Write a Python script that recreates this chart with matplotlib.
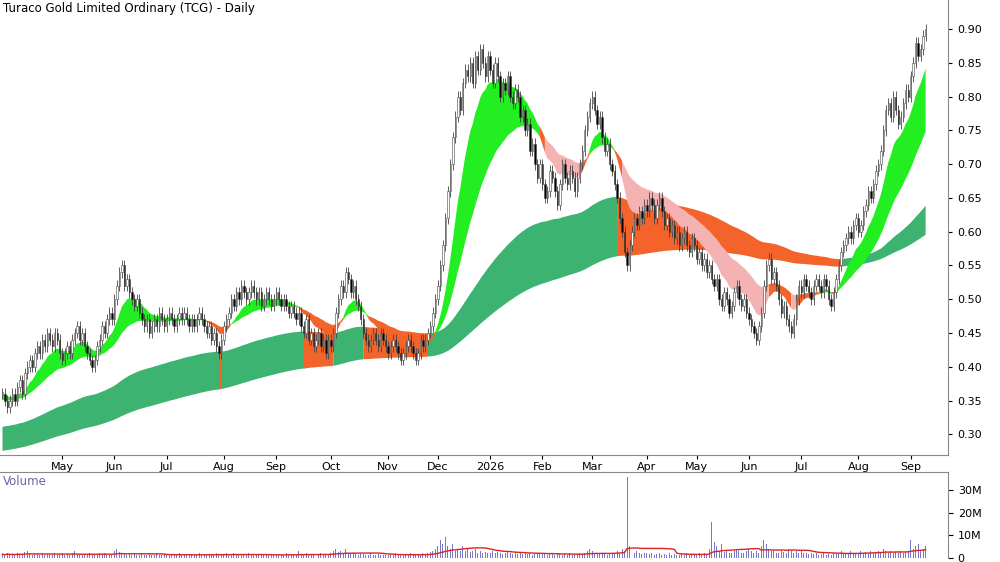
import numpy as np
import pandas as pd
import matplotlib
matplotlib.use("Agg")
import matplotlib.pyplot as plt
from matplotlib.patches import Rectangle

title = "Turaco Gold Limited Ordinary (TCG) - Daily"

prior_closes = [
 .19,.19,.20,.19,.19,.20,.20,.19,.20,.20, .20,.20,.21,.20,.20,.21,.20,.21,.21,.20,
 .21,.21,.22,.21,.21,.22,.21,.22,.21,.22, .22,.22,.23,.22,.22,.23,.22,.23,.22,.23,
 .23,.22,.23,.24,.23,.23,.24,.23,.24,.23, .24,.24,.25,.24,.24,.25,.24,.25,.24,.25,
 .25,.25,.26,.25,.25,.26,.25,.26,.25,.26, .25,.26,.26,.27,.26,.26,.27,.26,.27,.26,
 .27,.26,.27,.28,.27,.27,.28,.27,.28,.27, .28,.27,.28,.29,.28,.28,.29,.28,.29,.28,
 .29,.28,.29,.30,.29,.29,.30,.29,.30,.29, .30,.29,.30,.31,.30,.30,.31,.30,.31,.30,
 .30,.31,.31,.32,.31,.31,.32,.31,.32,.31, .31,.32,.32,.33,.32,.32,.33,.32,.33,.32,
 .32,.33,.33,.34,.33,.33,.34,.33,.34,.33, .33,.34,.34,.35,.34,.34,.35,.34,.35,.34,
 .35,.34,.35,.36,.35,.35,.36,.35,.36,.35, .36,.35,.36,.37,.36,.36,.37,.36,.37,.36,
]

closes_by_month = [
 [0.36,0.35,0.34,0.35,0.36,0.35],
 [0.37,0.38,0.36,0.39,0.40,0.41,0.40,0.42,0.43,0.42,0.44,0.43,0.45,0.44,0.43,0.45,0.44,0.42],
 [0.41,0.42,0.43,0.42,0.44,0.45,0.46,0.44,0.45,0.43,0.42,0.41,0.40,0.41,0.43,0.44,0.46,0.45,0.47,0.48,0.47],
 [0.50,0.52,0.54,0.55,0.52,0.53,0.51,0.50,0.49,0.50,0.48,0.47,0.46,0.47,0.45,0.46,0.47,0.46,0.48,0.47,0.46],
 [0.47,0.48,0.47,0.46,0.47,0.48,0.47,0.48,0.47,0.46,0.47,0.46,0.47,0.48,0.47,0.46,0.45,0.46,0.44,0.45,0.43,0.42,0.44],
 [0.46,0.47,0.48,0.50,0.49,0.51,0.50,0.52,0.51,0.50,0.51,0.52,0.51,0.50,0.51,0.49,0.50,0.51,0.50,0.49,0.50],
 [0.51,0.50,0.49,0.50,0.49,0.48,0.49,0.48,0.47,0.48,0.46,0.45,0.47,0.44,0.45,0.43,0.44,0.45,0.43,0.44,0.42,0.44],
 [0.43,0.45,0.48,0.50,0.52,0.51,0.54,0.53,0.51,0.52,0.50,0.49,0.47,0.45,0.44,0.43,0.44,0.45,0.44,0.43,0.45,0.44,0.43],
 [0.42,0.43,0.44,0.43,0.42,0.41,0.42,0.43,0.44,0.43,0.42,0.41,0.42,0.44,0.43,0.44,0.45,0.46,0.48,0.50],
 [0.52,0.55,0.58,0.62,0.66,0.70,0.74,0.77,0.80,0.78,0.82,0.84,0.83,0.85,0.82,0.86,0.84,0.87,0.85,0.83,0.86],
 [0.84,0.82,0.85,0.83,0.80,0.82,0.81,0.83,0.80,0.79,0.81,0.80,0.77,0.78,0.75,0.76,0.72,0.73,0.70,0.68,0.70],
 [0.67,0.65,0.66,0.69,0.68,0.66,0.64,0.67,0.70,0.68,0.67,0.69,0.68,0.66,0.68,0.70,0.72,0.75,0.77,0.79],
 [0.80,0.78,0.76,0.77,0.74,0.72,0.73,0.70,0.69,0.67,0.65,0.62,0.60,0.57,0.55,0.58,0.60,0.62,0.61,0.63,0.62,0.64],
 [0.63,0.65,0.64,0.62,0.64,0.65,0.63,0.61,0.62,0.60,0.61,0.59,0.60,0.58,0.59,0.60,0.58,0.57,0.59,0.58],
 [0.56,0.57,0.55,0.56,0.54,0.55,0.53,0.52,0.53,0.50,0.49,0.51,0.50,0.48,0.49,0.51,0.52,0.50,0.49,0.50,0.48],
 [0.47,0.46,0.45,0.44,0.46,0.48,0.52,0.55,0.56,0.53,0.54,0.52,0.50,0.48,0.49,0.47,0.46,0.45,0.47,0.50,0.52],
 [0.51,0.53,0.52,0.51,0.50,0.52,0.53,0.52,0.51,0.53,0.52,0.50,0.49,0.51,0.53,0.55,0.57,0.58,0.59,0.60,0.59,0.61,0.62],
 [0.60,0.61,0.63,0.64,0.66,0.65,0.67,0.69,0.70,0.72,0.75,0.78,0.79,0.77,0.80,0.78,0.76,0.77,0.79,0.81,0.80],
 [0.83,0.85,0.88,0.86,0.87,0.89,0.90],
]

volume_by_month = [
 [1.5,1,2,1,1.5,1],
 [2,1.5,1,2.5,3,1.5,1,2,1.5,1,2,1,1.5,1,1,2,1,1.5],
 [2,1,1.5,1,2,3,1.5,1,1,1.5,1,2,1.5,1,1,2,1.5,2,1.5,1,1],
 [3,4,2.5,2,1.5,1,2,1,1.5,1,1,2,1,1,1.5,1,1,2,1,1,1.5],
 [1,1,1.5,1,1,2,1,1,1,1.5,1,1,1,2,1,1,1,1.5,1,1,2,1.5,1],
 [1.5,2,1,1.5,2,1,1,1.5,1,1,2,1,1,1.5,1,1,1,1.5,1,1,1],
 [1,1.5,1,1,2,1,1.5,1,1,3,1.5,1,2,1,1,1.5,1,1,2,1,1,1.5],
 [2,3,4,2.5,3,2,4,2,1.5,2,1.5,1,2,1.5,1,1,2,1,1,1.5,1,1,1],
 [1,1.5,1,2,1,1,1.5,1,1,2,1,1,1.5,1,2,1.5,2,2.5,3,4],
 [5,8,6,9,5,4,6,3,4,3,5,3,4,2.5,3,4,2,3,2,2.5,2],
 [2,3,2,2.5,2,1.5,2,3,2,1.5,2,1.5,2,1.5,2,1.5,2,1,1.5,2,1.5],
 [2,1.5,1,2,1.5,1,2,1.5,1,1.5,1,2,1,1.5,1,2,1.5,2,3,4],
 [3,2,2,1.5,2,1.5,1,2,1.5,2,3,2,4,3,36,5,4,2,3,2,1.5,2],
 [2,1.5,2,1,1.5,2,1,1.5,1,2,1,1.5,1,1,1.5,1,2,1,1,1.5],
 [1.5,2,1,2,1.5,4,16,7,5,3,6,2.5,3,2,2,3,4,3,2,2,3],
 [4,3,2,3,2,5,8,6,4,3,3,2,2,3,2.5,2,4,3,2,3,2],
 [3,2,2,1.5,2,1.5,2,1,1.5,2,1,1.5,1,2,1.5,2,3,2,1.5,2,3,2,2],
 [2,3,2,2.5,2,3,2,2,3,2,4,3,2,3,2,2.5,2,3,2,2.5,3],
 [8,4,5,6,3,4,5],
]

short_periods = [12, 15, 19, 23, 28, 34]
long_periods = [120, 140, 160, 180, 200, 240]
month_labels = ["May","Jun","Jul","Aug","Sep","Oct","Nov","Dec","2026","Feb","Mar","Apr","May","Jun","Jul","Aug","Sep"]
price_ticks = [0.30,0.35,0.40,0.45,0.50,0.55,0.60,0.65,0.70,0.75,0.80,0.85,0.90]

closes = np.array([c for m in closes_by_month for c in m])
volume = np.array([v for m in volume_by_month for v in m]) * 1e6
n = len(closes)
x = np.arange(n)
month_sizes = [len(m) for m in closes_by_month]
month_pos = list(np.cumsum(month_sizes)[1:-1])

full = pd.Series(list(prior_closes) + list(closes))
np_ = len(prior_closes)
S = np.array([full.ewm(span=p, adjust=False).mean().values[np_:] for p in short_periods])
L = np.array([full.ewm(span=p, adjust=False).mean().values[np_:] for p in long_periods])

opens = np.concatenate([[prior_closes[-1]], closes[:-1]])
wick = 0.008
highs = np.maximum(opens, closes) + wick
lows = np.minimum(opens, closes) - wick

fig = plt.figure(figsize=(10, 5.62), dpi=100)
ax = fig.add_axes([0.0, 0.19, 0.948, 0.81])
axv = fig.add_axes([0.0, 0.008, 0.948, 0.152], sharex=ax)

def band(axx, lo, hi, mask, color):
    m2 = mask | np.concatenate([[False], mask[:-1]])
    axx.fill_between(x, lo, hi, where=m2, color=color, linewidth=0, zorder=1)

lo_l, hi_l = L.min(0), L.max(0)
lslope = np.diff(L[0], prepend=L[0][0])
lup = (L[0] >= L[-1]) & (lslope >= 0)
band(ax, lo_l, hi_l, lup, "#3cb371")
band(ax, lo_l, hi_l, ~lup, "#f4632a")

lo_s, hi_s = S.min(0), S.max(0)
sup = S[0] >= S[-1]
width = hi_s - lo_s
orange = (~sup) & (width < 0.02)
pink = (~sup) & ~orange
band(ax, lo_s, hi_s, sup, "#22ee22")
band(ax, lo_s, hi_s, orange, "#f4632a")
band(ax, lo_s, hi_s, pink, "#f5b2b2")

bw = 0.55
for i in range(n):
    ax.vlines(x[i], lows[i], highs[i], color="#444444", linewidth=0.6, zorder=3)
    up = closes[i] >= opens[i]
    b = min(opens[i], closes[i]); h = max(abs(closes[i] - opens[i]), 0.002)
    ax.add_patch(Rectangle((x[i] - bw/2, b), bw, h, facecolor="white" if up else "black",
                           edgecolor="#444444", linewidth=0.4, zorder=4))

ax.set_ylim(0.269, 0.943)
ax.set_xlim(-1, n + 8)
ax.yaxis.tick_right()
ax.set_yticks(price_ticks)
ax.set_yticklabels([f"{t:.2f}" for t in price_ticks], fontsize=8)
ax.set_xticks(month_pos)
ax.set_xticklabels(month_labels[:len(month_pos)], fontsize=8)
ax.tick_params(axis="x", length=3, pad=2)
ax.tick_params(axis="y", length=3)
ax.text(0.003, 0.995, title, transform=ax.transAxes, ha="left", va="top", fontsize=8.5)
for s in ["top", "left"]:
    ax.spines[s].set_visible(False)
for s in ["bottom", "right"]:
    ax.spines[s].set_color("#888888")

axv.bar(x, volume, width=0.4, color="#7777cc")
axv.plot(x, pd.Series(volume).rolling(20, min_periods=1).mean(), color="#dd2222", linewidth=1)
axv.set_ylim(0, 38e6)
axv.yaxis.tick_right()
axv.set_yticks([0, 10e6, 20e6, 30e6])
axv.set_yticklabels(["0", "10M", "20M", "30M"], fontsize=8)
axv.tick_params(axis="x", bottom=False, labelbottom=False)
axv.text(0.003, 0.97, "Volume", transform=axv.transAxes, ha="left", va="top", fontsize=8.5, color="#6666aa")
for s in ["bottom", "left"]:
    axv.spines[s].set_visible(False)
axv.spines["top"].set_color("#888888")
axv.spines["right"].set_color("#888888")

fig.savefig("out.png", dpi=100)
